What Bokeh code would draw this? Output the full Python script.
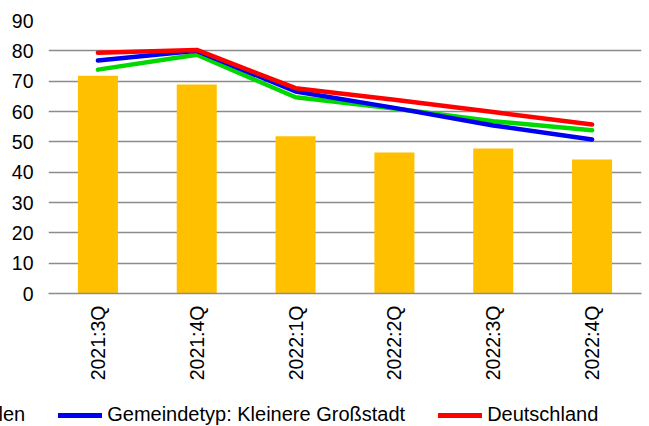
import math
from bokeh.plotting import figure
from bokeh.models import Legend, LegendItem, FactorRange, FixedTicker, ColumnDataSource
from bokeh.embed import file_html
from bokeh.resources import INLINE

quarters = ["2021:3Q", "2021:4Q", "2022:1Q", "2022:2Q", "2022:3Q", "2022:4Q"]
kommune = [71.8, 68.9, 51.8, 46.5, 47.8, 44.2]
land = [73.8, 78.7, 64.7, 61.0, 56.8, 53.8]
gemeindetyp = [76.8, 80.0, 66.6, 61.2, 55.4, 50.8]
deutschland = [79.4, 80.3, 67.7, 63.9, 59.8, 55.7]
y_ticks = [0, 10, 20, 30, 40, 50, 60, 70, 80, 90]

name_bar = "Kommune"
name_green = "Nordrhein-Westfalen"
name_blue = "Gemeindetyp: Kleinere Großstadt"
name_red = "Deutschland"

C_BAR, C_GREEN, C_BLUE, C_RED = "#FFC000", "#00D800", "#0000F0", "#FF0000"
FONT = "Liberation Sans"
FS = "19.5px"
FS_LEG = "20px"

src = ColumnDataSource(dict(q=quarters, k=kommune, l=land, g=gemeindetyp, d=deutschland))

p = figure(x_range=FactorRange(*quarters), y_range=(0, 90),
           width=649, height=392, output_backend="svg", toolbar_location=None,
           min_border_left=48, min_border_right=8, min_border_top=20, min_border_bottom=99)
p.outline_line_color = None
p.background_fill_color = "white"
p.border_fill_color = "white"

p.vbar(x="q", top="k", width=0.405, source=src, fill_color=C_BAR, line_color=None)
p.line(x="q", y="l", source=src, line_color=C_GREEN, line_width=4.5, line_cap="round", line_join="round")
p.line(x="q", y="g", source=src, line_color=C_BLUE, line_width=4.5, line_cap="round", line_join="round")
p.line(x="q", y="d", source=src, line_color=C_RED, line_width=4.5, line_cap="round", line_join="round")

p.xgrid.grid_line_color = None
p.ygrid.grid_line_color = "#8C8C8C"
p.ygrid.grid_line_width = 1.5
p.yaxis.ticker = FixedTicker(ticks=y_ticks)

p.yaxis.axis_line_color = None
p.yaxis.major_tick_line_color = None
p.yaxis.minor_tick_line_color = None
p.yaxis.major_tick_out = 0
p.yaxis.major_tick_in = 0
p.yaxis.major_label_standoff = 15
p.yaxis.major_label_text_font = FONT
p.yaxis.major_label_text_font_size = FS
p.yaxis.major_label_text_color = "#000000"

p.xaxis.axis_line_color = "#8C8C8C"
p.xaxis.axis_line_width = 1.5
p.xaxis.major_tick_line_color = None
p.xaxis.major_tick_out = 0
p.xaxis.major_tick_in = 0
p.xaxis.major_label_standoff = 12
p.xaxis.major_label_orientation = math.pi / 2
p.xaxis.major_label_text_font = FONT
p.xaxis.major_label_text_font_size = FS
p.xaxis.major_label_text_color = "#000000"

# legend strip (the reference legend is wider than the chart and cut off at the left);
# its renderers use the same data but the strip's y range keeps them out of view
lg = figure(width=649, height=34, x_range=FactorRange(*quarters), y_range=(500, 501),
            x_axis_type=None, y_axis_type=None, output_backend="svg", toolbar_location=None,
            min_border=0)
lg.outline_line_color = None
lg.grid.grid_line_color = None
lb = lg.vbar(x="q", top="k", width=0.405, source=src, fill_color=C_BAR, line_color=None)
lgr = lg.line(x="q", y="l", source=src, line_color=C_GREEN, line_width=5, line_cap="round")
lbl = lg.line(x="q", y="g", source=src, line_color=C_BLUE, line_width=5, line_cap="round")
lre = lg.line(x="q", y="d", source=src, line_color=C_RED, line_width=5, line_cap="round")

legend = Legend(items=[
    LegendItem(label=name_bar, renderers=[lb]),
    LegendItem(label=name_green, renderers=[lgr]),
    LegendItem(label=name_blue, renderers=[lbl]),
    LegendItem(label=name_red, renderers=[lre]),
], orientation="horizontal", location=(-380, 0),
    glyph_width=44, glyph_height=20, label_standoff=5, spacing=33,
    padding=0, margin=0, border_line_color=None, background_fill_alpha=0,
    label_text_font=FONT, label_text_font_size=FS_LEG, label_text_color="#000000")
lg.add_layout(legend, "center")

open("out.html", "w").write(file_html([p, lg], INLINE))
